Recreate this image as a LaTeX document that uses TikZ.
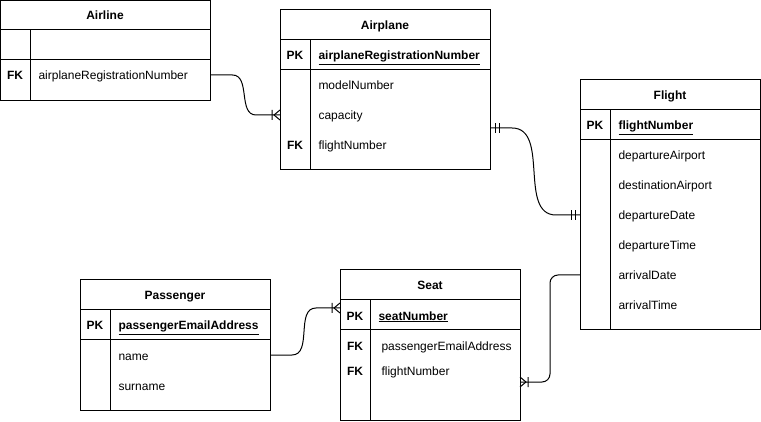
\documentclass[tikz,border=0pt]{standalone}
\usepackage{fontspec}
\setmainfont{Liberation Sans}
\usetikzlibrary{positioning, calc, decorations.markings}

\begin{document}
\begin{tikzpicture}[x=1pt, y=-1pt, line width=1pt,
    every node/.style={font=\fontsize{12}{14}\selectfont},
    tabla/.style={draw, rectangle, inner sep=0pt, outer sep=0pt, anchor=north west},
    titulo/.style={inner sep=0pt, text height=10pt, text depth=0pt},
    clave/.style={inner sep=0pt, text height=10pt, text depth=0pt},
    campo/.style={anchor=west, inner sep=0pt, text height=10pt, text depth=0pt},
    muchos/.style={postaction={decorate, decoration={markings,
        mark=at position 1 with {\draw[sharp corners] (-8pt,-5pt) -- (-8pt,5pt) (0pt,-5pt) -- (-6pt,0pt) -- (0pt,5pt);}}}},
    uno/.style={postaction={decorate, decoration={markings,
        mark=at position 0 with {\draw[sharp corners] (5pt,-5pt) -- (5pt,5pt) (9pt,-5pt) -- (9pt,5pt);},
        mark=at position 1 with {\draw[sharp corners] (-5pt,-5pt) -- (-5pt,5pt) (-9pt,-5pt) -- (-9pt,5pt);}}}}]
    \useasboundingbox (0,0) rectangle (761,422);

    % Tabla Airline
    \node[tabla, minimum width=210pt, minimum height=100pt] (airline) at (0.5,0.5) {};
    \draw (0.5,30) -- (210.5,30); % Línea del título
    \draw (0.5,60) -- (210.5,60);
    \draw (30,30) -- (30,100.5); % Línea vertical
    \node[titulo] (airlineTitle) at (105,15) {\textbf{Airline}};
    \node[clave] (airlineFK) at (15,75) {\textbf{FK}};
    \node[campo] (airlineReg) at (38,75) {airplaneRegistrationNumber};

    % Tabla Airplane
    \node[tabla, minimum width=210pt, minimum height=160pt] (airplane) at (280,10) {};
    \draw (280,40) -- (490,40);
    \draw (280,70) -- (490,70);
    \draw (310,40) -- (310,170); % Línea vertical
    \node[titulo] (airplaneTitle) at (385,25) {\textbf{Airplane}};
    \node[clave] (airplanePK) at (295,55) {\textbf{PK}};
    \node[campo] (airplaneReg) at (318,55) {\underline{\textbf{airplaneRegistrationNumber}}};
    \node[campo] (airplaneModel) at (318,85) {modelNumber};
    \node[campo] (airplaneCap) at (318,115) {capacity};
    \node[clave] (airplaneFK) at (295,145) {\textbf{FK}};
    \node[campo] (airplaneFlight) at (318,145) {flightNumber};

    % Tabla Flight
    \node[tabla, minimum width=180pt, minimum height=250pt] (flight) at (580,80) {};
    \draw (580,110) -- (760,110);
    \draw (580,140) -- (760,140);
    \draw (610,110) -- (610,330); % Línea vertical
    \node[titulo] (flightTitle) at (670,95) {\textbf{Flight}};
    \node[clave] (flightPK) at (595,125) {\textbf{PK}};
    \node[campo] (flightNum) at (618,125) {\underline{\textbf{flightNumber}}};
    \node[campo] (flightDepAirport) at (618,155) {departureAirport};
    \node[campo] (flightDestAirport) at (618,185) {destinationAirport};
    \node[campo] (flightDepDate) at (618,215) {departureDate};
    \node[campo] (flightDepTime) at (618,245) {departureTime};
    \node[campo] (flightArrDate) at (618,275) {arrivalDate};
    \node[campo] (flightArrTime) at (618,305) {arrivalTime};

    % Tabla Seat
    \node[tabla, minimum width=180pt, minimum height=150pt] (seat) at (340,270) {};
    \draw (340,300) -- (520,300);
    \draw (340,330) -- (520,330);
    \draw (370,300) -- (370,420); % Línea vertical
    \node[titulo] (seatTitle) at (430,285) {\textbf{Seat}};
    \node[clave] (seatPK) at (355,315) {\textbf{PK}};
    \node[campo] (seatNum) at (378,315) {\underline{\textbf{seatNumber}}};
    \node[clave] (seatFKa) at (355,345) {\textbf{FK}};
    \node[campo] (seatEmail) at (381,345) {passengerEmailAddress};
    \node[clave] (seatFKb) at (355,370) {\textbf{FK}};
    \node[campo] (seatFlight) at (381,370) {flightNumber};

    % Tabla Passenger
    \node[tabla, minimum width=190pt, minimum height=130pt] (passenger) at (80,280) {};
    \draw (80,310) -- (270,310);
    \draw (80,340) -- (270,340);
    \draw (110,310) -- (110,410); % Línea vertical
    \node[titulo] (passTitle) at (175,295) {\textbf{Passenger}};
    \node[clave] (passPK) at (95,325) {\textbf{PK}};
    \node[campo] (passEmail) at (118,325) {\underline{\textbf{passengerEmailAddress}}};
    \node[campo] (passName) at (118,355) {name};
    \node[campo] (passSurname) at (118,385) {surname};

    % Relaciones
    \draw[muchos] (airline.east |- airlineFK) -- ++(22,0)
        to[out=0,in=180] ($(airplane.west |- airplaneCap)+(-24,0)$) -- (airplane.west |- airplaneCap);
    \draw[uno] ($(airplane.east)+(0,38)$) -- ++(22,0)
        to[out=0,in=180] ($(flight.west |- flightDepDate)+(-24,0)$) -- (flight.west |- flightDepDate);
    \draw[muchos] (passenger.east |- passName) -- ++(22,0)
        to[out=0,in=180] ($(seat.north west)+(-24,38)$) -- ($(seat.north west)+(0,38)$);
    \draw[muchos, rounded corners=8pt] (flight.west |- flightArrDate) -| ($(seat.east)+(30,37)$)
        -- ($(seat.east)+(0,37)$);
\end{tikzpicture}
\end{document}
